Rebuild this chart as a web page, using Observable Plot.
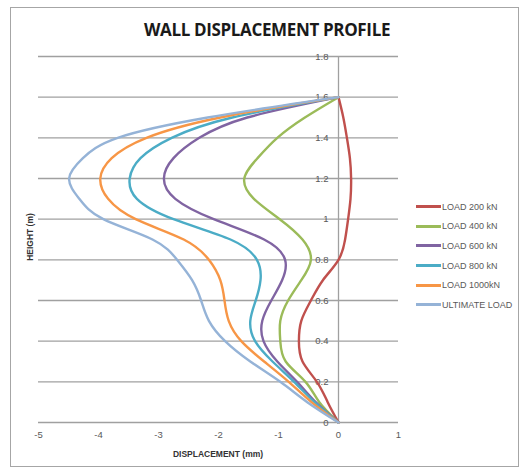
<!DOCTYPE html>
<html><head><meta charset="utf-8">
<script src="https://cdn.jsdelivr.net/npm/d3@7"></script>
<script src="https://cdn.jsdelivr.net/npm/@observablehq/plot@0.6"></script>
<style>
body{margin:0;background:#fff;font-family:"Liberation Sans",Arial,sans-serif;}
#wrap{position:relative;width:522px;height:470px;overflow:hidden;}
#frame{position:absolute;left:10px;top:7px;width:509px;height:460px;border:1px solid #a6a6a6;box-sizing:border-box;}
#title{position:absolute;left:0;width:534px;top:18px;text-align:center;font-weight:bold;font-size:17px;color:#1a1a1a;letter-spacing:-0.35px;font-family:"Open Sans","Liberation Sans",sans-serif;}
#xlab{position:absolute;left:118px;width:200px;top:449px;text-align:center;font-weight:bold;font-size:8.5px;color:#333;}
#ylab{position:absolute;left:-70px;width:200px;top:232px;text-align:center;font-weight:bold;font-size:8.5px;color:#333;transform:rotate(-90deg);}
#legend{position:absolute;left:416px;top:197px;font-size:9px;color:#595959;}
.item{height:19.6px;display:flex;align-items:center;}
.sw{width:25px;height:3px;margin-right:1px;}
svg{position:absolute;left:0;top:0;}
</style></head>
<body><div id="wrap"><div id="frame"></div><div id="chart"></div>
<div id="title">WALL DISPLACEMENT PROFILE</div>
<div id="xlab">DISPLACEMENT (mm)</div>
<div id="ylab">HEIGHT (m)</div>
<div id="legend"></div></div>
<script>
const heights = [0,0.1,0.2,0.3,0.4,0.5,0.6,0.7,0.8,0.9,1.0,1.1,1.2,1.3,1.4,1.5,1.6];
const seriesNames = ["LOAD 200 kN","LOAD 400 kN","LOAD 600 kN","LOAD 800 kN","LOAD 1000kN","ULTIMATE LOAD"];
const seriesColors = ["#C0504D","#9BBB59","#8064A2","#4BACC6","#F79646","#95B3D7"];
const load200  = [0,-0.18,-0.36,-0.6,-0.66,-0.62,-0.46,-0.26,0.0,0.11,0.16,0.2,0.21,0.19,0.14,0.08,0];
const load400  = [0,-0.32,-0.55,-0.88,-0.97,-0.97,-0.84,-0.62,-0.46,-0.6,-0.98,-1.41,-1.57,-1.35,-1.02,-0.56,0];
const load600  = [0,-0.38,-0.69,-1.02,-1.25,-1.27,-1.12,-0.94,-0.89,-1.24,-2.08,-2.72,-2.91,-2.75,-2.32,-1.52,0];
const load800  = [0,-0.4,-0.74,-1.1,-1.39,-1.47,-1.38,-1.3,-1.36,-1.8,-2.75,-3.36,-3.48,-3.3,-2.78,-1.77,0];
const load1000 = [0,-0.45,-0.83,-1.24,-1.62,-1.83,-1.9,-1.97,-2.16,-2.58,-3.38,-3.84,-3.97,-3.78,-3.2,-1.97,0];
const ultimate = [0,-0.52,-0.97,-1.47,-1.89,-2.16,-2.29,-2.44,-2.69,-3.1,-3.92,-4.32,-4.49,-4.26,-3.68,-2.18,0];
const xTicks = [-5,-4,-3,-2,-1,0,1];
const yTicks = [0,0.2,0.4,0.6,0.8,1,1.2,1.4,1.6,1.8];

const allSeries = [load200,load400,load600,load800,load1000,ultimate];
const rows = [];
allSeries.forEach((vals,i)=>vals.forEach((v,j)=>rows.push({series:seriesNames[i],d:v,h:heights[j]})));

const plot = Plot.plot({
  width:522, height:470,
  marginLeft:38, marginRight:124, marginTop:56, marginBottom:48,
  style:{fontFamily:"Liberation Sans, Arial, sans-serif", fontSize:"9.5px", color:"#595959", background:"transparent"},
  x:{domain:[-5,1]},
  y:{domain:[0,1.8], axis:null},
  color:{domain:seriesNames, range:seriesColors},
  marks:[
    Plot.ruleY(yTicks,{x1:-5,x2:1,stroke:"#a0a0a0",strokeWidth:1.3}),
    Plot.ruleX([0],{y1:0,y2:1.8,stroke:"#a0a0a0",strokeWidth:1.3}),
    Plot.text(yTicks,{x:0,y:d=>d,text:d=>String(d),dx:-10,textAnchor:"end",fill:"#595959"}),
    Plot.axisX({ticks:xTicks,tickSize:0,tickPadding:9,tickFormat:d=>String(d),label:null,fill:"#595959"}),
    Plot.line(rows,{x:"d",y:"h",z:"series",stroke:"series",strokeWidth:2.4,curve:"natural"})
  ]
});
document.getElementById("chart").appendChild(plot);

const leg = document.getElementById("legend");
seriesNames.forEach((n,i)=>{
  const it=document.createElement("div");it.className="item";
  const sw=document.createElement("div");sw.className="sw";sw.style.background=seriesColors[i];
  const t=document.createElement("span");t.textContent=n;
  it.appendChild(sw);it.appendChild(t);leg.appendChild(it);
});
</script></body></html>
